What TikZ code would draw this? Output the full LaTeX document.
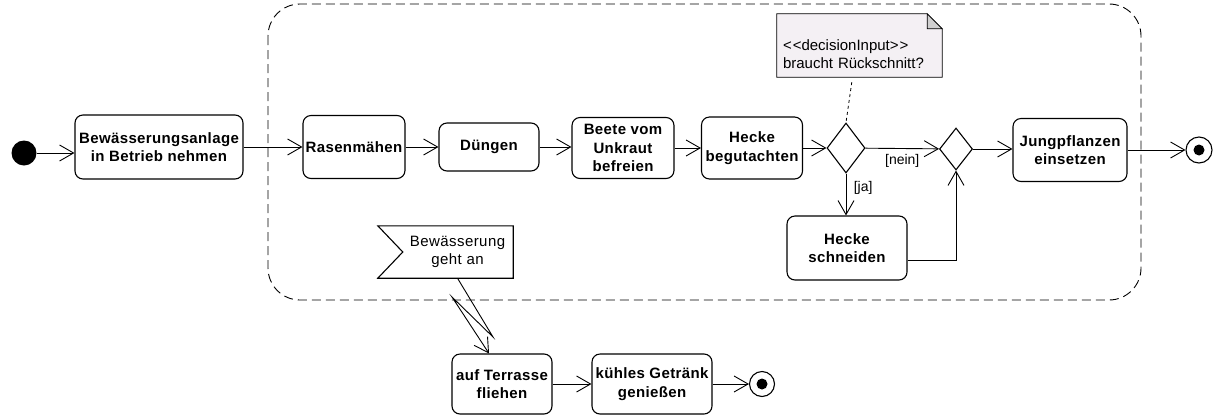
\documentclass[tikz,border=0pt]{standalone}
\usepackage{fontspec}
\setmainfont{Liberation Sans}
\usetikzlibrary{shapes.geometric, arrows.meta}
\newcommand{\actfont}{\fontsize{15}{18.5}\selectfont\bfseries\addfontfeature{LetterSpace=2.5}}
\newcommand{\plainfont}{\fontsize{14}{18}\selectfont}
\definecolor{notebg}{RGB}{244,240,244}
\definecolor{earbg}{RGB}{208,208,208}
\tikzstyle{activity} = [rectangle, rounded corners=8, draw=black, line width=1.1pt, align=center, inner sep=2pt, font=\actfont]
\tikzstyle{decision} = [diamond, draw=black, line width=1.1pt, inner sep=0pt]
\tikzstyle{initial} = [circle, fill=black, minimum size=25, inner sep=0pt]
\tikzstyle{final} = [circle, draw=black, line width=1.1pt, minimum size=26, inner sep=0pt, path picture={\fill (path picture bounding box.center) circle (5.5);}]
\tikzstyle{arrow} = [line width=0.9pt, -{Straight Barb[length=14pt, width=16pt]}]
\tikzstyle{region} = [line width=0.9pt, dash pattern=on 9pt off 5pt, rounded corners=32]

\begin{document}
\begin{tikzpicture}[x=1pt, y=-1pt, font=\plainfont]
\useasboundingbox (0,0) rectangle (1222,416);
% REGION
\draw [region] (268,4) rectangle (1141,300);

% NODES
\node (start) [initial] at (24,153) {};
\node (bewa) [activity, minimum width=168, minimum height=64] at (159,147) {Bewässerungsanlage\\in Betrieb nehmen};
\node (rasen) [activity, minimum width=102, minimum height=63] at (354,147) {Rasenmähen};
\node (duengen) [activity, minimum width=100, minimum height=48] at (489,147) {Düngen};
\node (beete) [activity, minimum width=102, minimum height=61] at (623,148) {Beete vom\\Unkraut\\befreien};
\node (hecke) [activity, minimum width=101, minimum height=62] at (752,148) {Hecke\\begutachten};
\node (check) [decision, minimum width=38, minimum height=50] at (846,148) {};
\node (merge) [decision, minimum width=33, minimum height=42] at (956,149) {};
\node (jung) [activity, minimum width=114, minimum height=63] at (1070,150) {Jungpflanzen\\einsetzen};
\node (end) [final] at (1199,150) {};
\node (schneiden) [activity, minimum width=120, minimum height=64] at (847,248) {Hecke\\schneiden};

% note
\node (note) [minimum width=165, minimum height=63, inner sep=0pt] at (859.5,45.5) {};
\filldraw [fill=notebg, line width=0.8pt] (note.north west) -- ([xshift=-15]note.north east) -- ([yshift=-15]note.north east) -- (note.south east) -- (note.south west) -- cycle;
\filldraw [fill=earbg, line width=0.8pt] ([xshift=-15]note.north east) -- ([xshift=-15,yshift=-15]note.north east) -- ([yshift=-15]note.north east) -- cycle;
\node (notetext) [text width=155, align=left, inner sep=0pt, font=\fontsize{15}{18}\selectfont] at ([xshift=1,yshift=-8.5]note.center) {\textless\kern1pt\textless decisionInput\textgreater\kern1pt\textgreater\\braucht Rückschnitt?};

% signal
\node (signal) [minimum width=135, minimum height=52, inner sep=0pt] at (445.5,252) {};
\draw [line width=1.1pt] (signal.north west) -- (signal.north east) -- (signal.south east) -- (signal.south west) -- ([xshift=25]signal.west) -- cycle;
\node (signaltext) [align=center, inner sep=0pt, font=\fontsize{15}{18}\selectfont\addfontfeature{LetterSpace=3}] at ([xshift=12]signal.center) {Bewässerung\\geht an};

\node (terrasse) [activity, minimum width=100, minimum height=60] at (502,384) {auf Terrasse\\fliehen};
\node (getraenk) [activity, minimum width=120, minimum height=60] at (652,384) {kühles Getränk\\genießen};
\node (end2) [final, minimum size=25] at (762,384) {};
\coordinate (zz1) at (493,337);
\coordinate (zz2) at (452,297);

% ARROWS
\draw [arrow] (start) -- (start -| bewa.west);
\draw [arrow] (bewa) -- (rasen);
\draw [arrow] (rasen) -- (duengen);
\draw [arrow] (duengen) -- (duengen -| beete.west);
\draw [arrow] (beete) -- (hecke);
\draw [arrow] (hecke) -- (check);
\draw [arrow] (check) -- node[below, yshift=-2] {[nein]} (merge);
\draw [arrow] (check) -- node[pos=0.35, right, xshift=4] {[ja]} (check |- schneiden.north);
\draw [arrow] ([yshift=-12]schneiden.east) -| (merge.south);
\draw [arrow] (merge) -- (merge -| jung.west);
\draw [arrow] (jung) -- (end);
\draw [dashed, line width=0.8pt, shorten <=5pt] ([xshift=-7]note.south) -- (check.north);

\draw [arrow] ([xshift=12]signal.south) -- (zz1) -- (zz2) -- ([xshift=-13]terrasse.north);
\draw [arrow] (terrasse) -- (getraenk);
\draw [arrow] (getraenk) -- (end2);
\end{tikzpicture}
\end{document}
